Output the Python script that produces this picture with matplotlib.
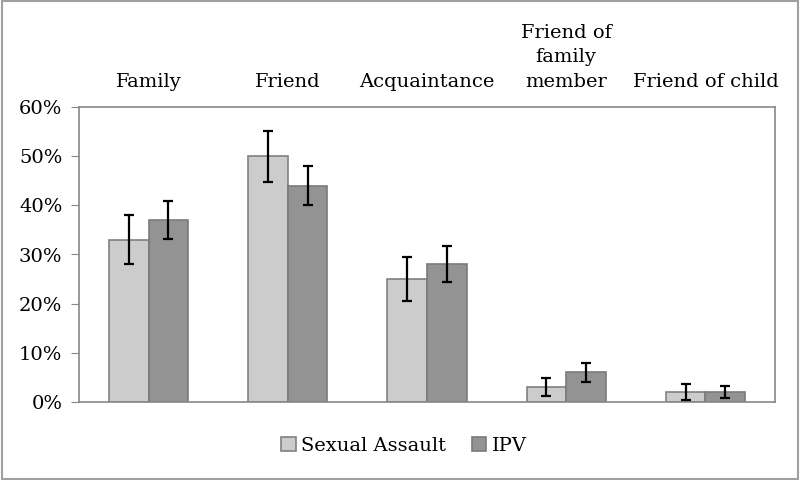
import numpy as np
import matplotlib.pyplot as plt
from matplotlib.patches import Rectangle

categories = ["Family", "Friend", "Acquaintance", "Friend of\nfamily\nmember", "Friend of child"]
sexual_assault = [33, 50, 25, 3, 2]
sexual_assault_err = [5, 5.2, 4.5, 1.9, 1.6]
ipv = [37, 44, 28, 6, 2]
ipv_err = [3.9, 4, 3.7, 1.9, 1.3]
yticks = [0, 10, 20, 30, 40, 50, 60]

plt.rcParams['font.family'] = ['DejaVu Serif']

fig = plt.figure(figsize=(8, 4.8), dpi=100)
ax = fig.add_axes([79 / 800, 1 - 401.7 / 480, 696 / 800, 294.4 / 480])

x = np.arange(len(categories))
w = 0.284
ax.bar(x - w / 2, sexual_assault, w, color='#cccccc', edgecolor='#808080', linewidth=1.2,
       label='Sexual Assault', zorder=2)
ax.bar(x + w / 2, ipv, w, color='#939393', edgecolor='#7a7a7a', linewidth=1.2,
       label='IPV', zorder=2)
ax.errorbar(x - w / 2, sexual_assault, yerr=sexual_assault_err, fmt='none', ecolor='black',
            elinewidth=1.6, capsize=3.8, capthick=1.6, zorder=3)
ax.errorbar(x + w / 2, ipv, yerr=ipv_err, fmt='none', ecolor='black',
            elinewidth=1.6, capsize=3.8, capthick=1.6, zorder=3)

ax.set_xlim(-0.5, len(categories) - 0.5)
ax.set_ylim(0, 60)
ax.set_yticks(yticks)
ax.set_yticklabels([f"{t}%" for t in yticks], fontsize=14)
ax.tick_params(axis='y', direction='out', length=6, color='#888888', pad=6)

ax.xaxis.tick_top()
ax.set_xticks(x)
ax.set_xticklabels(categories, fontsize=14, linespacing=1.45)
ax.tick_params(axis='x', length=0, pad=12)

for s in ax.spines.values():
    s.set_color('#888888')
    s.set_linewidth(1.2)

fig.legend(loc='center', bbox_to_anchor=(0.505, 1 - 446 / 480), ncol=2, frameon=False,
           fontsize=14, handlelength=0.75, handleheight=0.75, handletextpad=0.3,
           columnspacing=1.3)

fig.patches.append(Rectangle((0.002, 0.003), 0.995, 0.994, transform=fig.transFigure,
                             fill=False, edgecolor='#a0a0a0', linewidth=1.5))

fig.savefig('out.png', dpi=100)
